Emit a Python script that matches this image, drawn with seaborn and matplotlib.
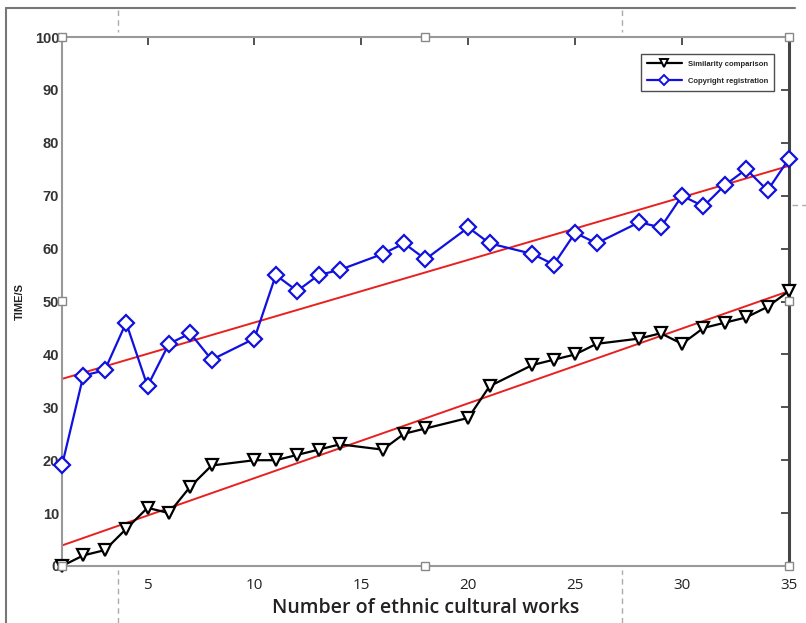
import numpy as np
import pandas as pd
import matplotlib
matplotlib.use("Agg")
import matplotlib.pyplot as plt
import seaborn as sns
from matplotlib.lines import Line2D

# data
works = [1, 2, 3, 4, 5, 6, 7, 8, 10, 11, 12, 13, 14, 16, 17, 18, 20, 21,
         23, 24, 25, 26, 28, 29, 30, 31, 32, 33, 34, 35]
similarity = [0, 2, 3, 7, 11, 10, 15, 19, 20, 20, 21, 22, 23, 22, 25, 26, 28, 34,
              38, 39, 40, 42, 43, 44, 42, 45, 46, 47, 49, 52]
copyright_reg = [19, 36, 37, 46, 34, 42, 44, 39, 43, 55, 52, 55, 56, 59, 61, 58, 64, 61,
                 59, 57, 63, 61, 65, 64, 70, 68, 72, 75, 71, 77]
x_ticks = [5, 10, 15, 20, 25, 30, 35]
y_ticks = [0, 10, 20, 30, 40, 50, 60, 70, 80, 90, 100]

df = pd.DataFrame({"works": works, "sim": similarity, "copy": copyright_reg})

sns.set_style("white")
plt.rcParams["font.family"] = ["Liberation Sans", "DejaVu Sans"]

fig = plt.figure(figsize=(8.06, 6.23), dpi=100)
ax = fig.add_axes([0.0769, 0.0915, 0.902, 0.849])

# trend lines (least squares fit of each series)
xs = np.array([1, 35])
for col in ["sim", "copy"]:
    k, b = np.polyfit(df["works"], df[col], 1)
    ax.plot(xs, k * xs + b, color="#e8211f", lw=1.4, zorder=2)

sns.lineplot(data=df, x="works", y="sim", ax=ax, color="black", lw=1.6,
             marker="v", markersize=9, markerfacecolor="white",
             markeredgecolor="black", markeredgewidth=1.6, zorder=3, clip_on=False)
sns.lineplot(data=df, x="works", y="copy", ax=ax, color="#1010e0", lw=1.6,
             marker="D", markersize=8.5, markerfacecolor="white",
             markeredgecolor="#1010e0", markeredgewidth=1.6, zorder=3, clip_on=False)

ax.set_xlim(1, 35)
ax.set_ylim(0, 100)
ax.set_xticks(x_ticks)
ax.set_yticks(y_ticks)
ax.tick_params(axis="both", direction="in", length=6, width=1.2, color="#333333",
               top=True, right=True)
ax.tick_params(axis="y", labelsize=10.5, labelcolor="#333333", pad=2)
ax.tick_params(axis="x", labelsize=11, labelcolor="#222222", pad=9)
for lab in ax.get_yticklabels():
    lab.set_fontweight("bold")
for lab in ax.get_xticklabels():
    lab.set_family(["Open Sans", "DejaVu Sans"])

for side in ["left", "top", "bottom"]:
    ax.spines[side].set_color("#999999")
    ax.spines[side].set_linewidth(1.5)
ax.spines["right"].set_color("#444444")
ax.spines["right"].set_linewidth(2.2)

ax.set_xlabel("Number of ethnic cultural works", fontsize=14, fontweight="semibold",
              family=["Open Sans", "DejaVu Sans"], color="#222222", labelpad=3)
ax.set_ylabel("TIME/S", fontsize=8, fontweight="bold", color="#222222", labelpad=7)

handles = [
    Line2D([], [], color="black", lw=1.6, marker="v", markersize=6,
           markerfacecolor="white", markeredgewidth=1.4),
    Line2D([], [], color="#1010e0", lw=1.6, marker="D", markersize=5.5,
           markerfacecolor="white", markeredgewidth=1.4),
]
leg = ax.legend(handles, ["Similarity comparison", "Copyright registration"],
                loc="upper right", bbox_to_anchor=(0.985, 0.975), fontsize=5.5,
                frameon=True, fancybox=False, handlelength=4.5, borderpad=0.8,
                labelspacing=1.3, edgecolor="#222222")
for t in leg.get_texts():
    t.set_fontweight("bold")
leg.get_frame().set_linewidth(1.0)

# screenshot frame and editor decorations
fig.add_artist(Line2D([6 / 806, 6 / 806], [0, 1 - 8 / 623], color="#777777", lw=1.5))
fig.add_artist(Line2D([6 / 806, 795 / 806], [1 - 8 / 623, 1 - 8 / 623], color="#777777", lw=1.5))
for xp in [118, 622]:
    fig.add_artist(Line2D([xp / 806, xp / 806], [1 - 10 / 623, 1 - 32 / 623],
                          color="#aaaaaa", lw=1, ls=(0, (4, 3))))
    fig.add_artist(Line2D([xp / 806, xp / 806], [0, 1 - 570 / 623],
                          color="#aaaaaa", lw=1, ls=(0, (4, 3))))
fig.add_artist(Line2D([792 / 806, 806 / 806], [1 - 205 / 623, 1 - 205 / 623],
                      color="#aaaaaa", lw=1, ls=(0, (4, 3))))
hx = [62, 425, 789, 62, 789, 62, 425, 789]
hy = [37, 37, 37, 301, 301, 566, 566, 566]
fig.add_artist(Line2D([v / 806 for v in hx], [1 - v / 623 for v in hy], ls="none",
                      marker="s", markersize=6, markerfacecolor="white",
                      markeredgecolor="#888888", markeredgewidth=1, zorder=5))

fig.savefig("out.png", dpi=100)
